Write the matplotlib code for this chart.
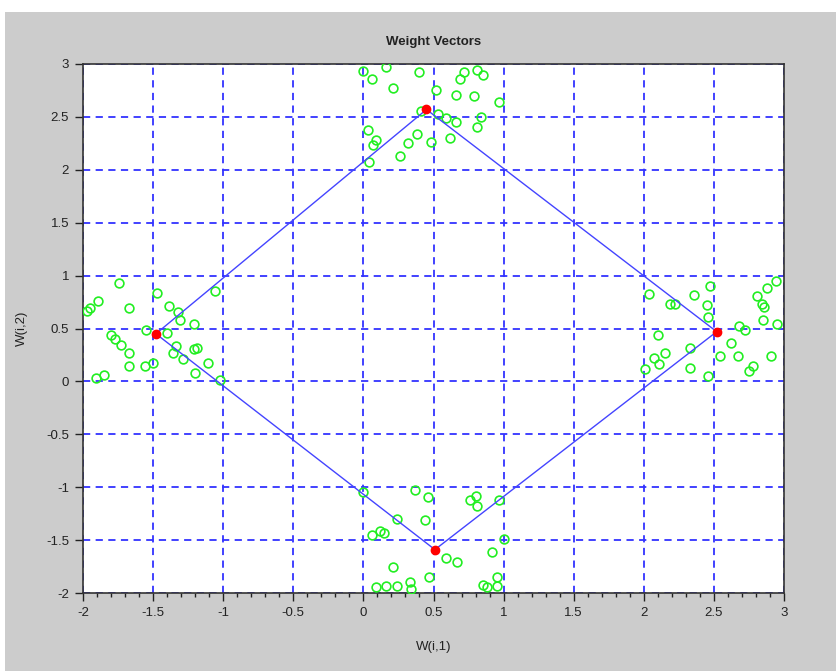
import matplotlib
matplotlib.use("Agg")
import matplotlib.pyplot as plt
from matplotlib.patches import Rectangle
from matplotlib.ticker import MultipleLocator

# input samples W(i,1), W(i,2)
left_x = [-1.74, -1.47, -1.89, -1.95, -1.97, -1.67, -1.39, -1.32, -1.31, -1.21,
          -1.06, -1.55, -1.40, -1.80, -1.77, -1.73, -1.67, -1.34, -1.36, -1.29,
          -1.21, -1.19, -1.67, -1.56, -1.50, -1.11, -1.20, -1.85, -1.91, -1.02]
left_y = [0.93, 0.84, 0.76, 0.69, 0.67, 0.69, 0.71, 0.66, 0.58, 0.54,
          0.85, 0.49, 0.46, 0.44, 0.40, 0.34, 0.27, 0.33, 0.27, 0.21,
          0.31, 0.32, 0.15, 0.15, 0.17, 0.17, 0.08, 0.06, 0.03, 0.01]

right_x = [2.04, 2.36, 2.47, 2.19, 2.22, 2.45, 2.46, 2.81, 2.88, 2.94,
           2.84, 2.86, 2.85, 2.95, 2.68, 2.72, 2.10, 2.62, 2.33, 2.15,
           2.07, 2.11, 2.01, 2.54, 2.67, 2.91, 2.33, 2.46, 2.78, 2.75]
right_y = [0.83, 0.82, 0.90, 0.73, 0.73, 0.72, 0.61, 0.81, 0.88, 0.95,
           0.73, 0.70, 0.58, 0.54, 0.52, 0.49, 0.44, 0.36, 0.32, 0.27,
           0.22, 0.16, 0.12, 0.24, 0.24, 0.24, 0.13, 0.05, 0.15, 0.10]

top_x = [0.00, 0.06, 0.16, 0.40, 0.72, 0.81, 0.85, 0.69, 0.21, 0.52,
         0.66, 0.79, 0.97, 0.41, 0.53, 0.59, 0.66, 0.84, 0.81, 0.03,
         0.38, 0.32, 0.48, 0.62, 0.09, 0.07, 0.26, 0.04]
top_y = [2.93, 2.86, 2.97, 2.92, 2.92, 2.94, 2.90, 2.86, 2.77, 2.75,
         2.71, 2.70, 2.64, 2.56, 2.53, 2.49, 2.45, 2.50, 2.40, 2.38,
         2.34, 2.25, 2.26, 2.30, 2.28, 2.23, 2.13, 2.07]

bottom_x = [0.00, 0.37, 0.46, 0.76, 0.80, 0.81, 0.97, 0.24, 0.44, 0.06,
            0.12, 0.15, 1.00, 0.92, 0.59, 0.67, 0.21, 0.47, 0.95, 0.95,
            0.85, 0.88, 0.09, 0.16, 0.24, 0.33, 0.34]
bottom_y = [-1.05, -1.03, -1.09, -1.12, -1.08, -1.18, -1.12, -1.30, -1.31, -1.45,
            -1.41, -1.43, -1.49, -1.61, -1.67, -1.71, -1.75, -1.85, -1.85, -1.93,
            -1.92, -1.94, -1.94, -1.93, -1.93, -1.90, -1.96]

# trained weight vectors (neurons), in ring order
neuron_x = [0.45, 2.52, 0.51, -1.48]
neuron_y = [2.57, 0.47, -1.59, 0.45]

tick_vals = [-2, -1.5, -1, -0.5, 0, 0.5, 1, 1.5, 2, 2.5, 3]
tick_labels = ["-2", "-1.5", "-1", "-0.5", "0", "0.5", "1", "1.5", "2", "2.5", "3"]

xs = left_x + right_x + top_x + bottom_x
ys = left_y + right_y + top_y + bottom_y

plt.rcParams['font.family'] = ['Liberation Sans', 'DejaVu Sans']

fig = plt.figure(figsize=(8.36, 6.71), dpi=100, facecolor="white")
fig.patches.append(Rectangle((5 / 836, 0), 1, (671 - 12) / 671,
                             transform=fig.transFigure, facecolor="#cccccc",
                             edgecolor="none", zorder=-10))

ax = fig.add_axes([83 / 836, 78 / 671, 701 / 836, 529 / 671])
ax.set_facecolor("white")

ax.plot(xs, ys, "o", mfc="none", mec="#22ee22", ms=6.3, mew=1.2, zorder=3)
ax.plot(neuron_x + neuron_x[:1], neuron_y + neuron_y[:1], "-", color="#4444ff", lw=1.0, zorder=4)
ax.plot(neuron_x, neuron_y, "o", color="#ff0000", ms=6, mec="#ff0000", zorder=5)

ax.set_xlim(-2, 3)
ax.set_ylim(-2, 3)
ax.set_xticks(tick_vals)
ax.set_xticklabels(tick_labels)
ax.set_yticks(tick_vals)
ax.set_yticklabels(tick_labels)
ax.xaxis.set_minor_locator(MultipleLocator(0.1))
ax.grid(True, which="major", color="#3333ff", linestyle=(0, (4, 3)), lw=1.3)
ax.set_axisbelow(True)

ax.tick_params(axis="both", which="major", direction="out", length=6, width=1,
               labelsize=9.5, colors="#222222", pad=4)
ax.tick_params(axis="x", which="minor", direction="out", length=3, width=1, color="#222222")
ax.tick_params(top=False, right=False)

for sp in ax.spines.values():
    sp.set_color("#333333")
    sp.set_linewidth(1.2)

ax.set_title("Weight Vectors", fontsize=9.5, fontweight="bold", color="#222222", pad=14)
ax.set_xlabel("W(i,1)", fontsize=9.5, color="#222222", labelpad=16)
ax.set_ylabel("W(i,2)", fontsize=9.5, color="#222222", labelpad=13)

fig.savefig("out.png", dpi=100, facecolor=fig.get_facecolor())
